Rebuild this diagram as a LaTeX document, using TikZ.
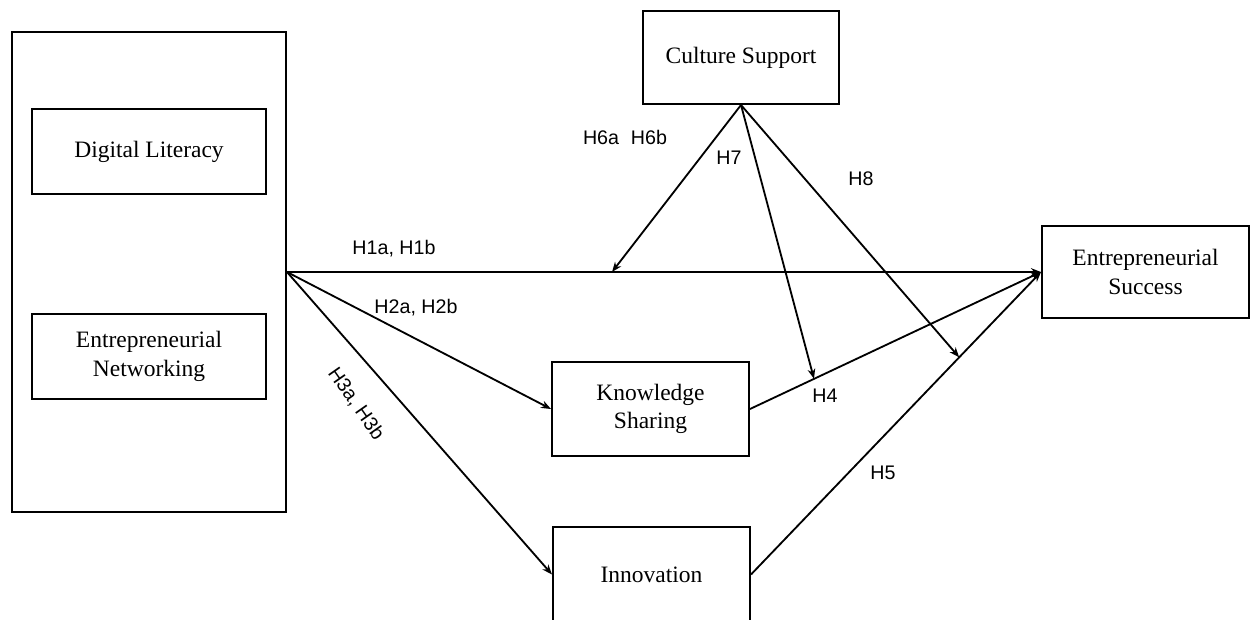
\documentclass[tikz,border=0pt]{standalone}
\usepackage{fontspec}
\setmainfont{Liberation Serif}
\newfontfamily\labfont{Liberation Sans}
\usetikzlibrary{arrows.meta,calc}
\begin{document}
\begin{tikzpicture}[x=0.6pt,y=-0.6pt,
  box/.style={draw,line width=1.2pt,inner sep=0pt,align=center,
    font=\fontsize{14.1}{17}\selectfont},
  conn/.style={line width=1.1pt},
  arr/.style={conn,-{Stealth[length=6pt,width=4.6pt]}},
  lab/.style={font=\labfont\fontsize{11.8}{14}\selectfont,inner sep=0pt}]
\useasboundingbox (0,0) rectangle (1250,619);
\node[box,minimum width=164.4pt,minimum height=288pt] (big) at (149,272) {};
\node[box,minimum width=140.4pt,minimum height=51pt] (dl) at (149,151.5) {Digital Literacy};
\node[box,minimum width=140.4pt,minimum height=51pt] (en) at (149,356.5) {Entrepreneurial\\Networking};
\node[box,minimum width=117.6pt,minimum height=55.8pt] (cs) at (741,57.5) {Culture Support};
\node[box,minimum width=124.2pt,minimum height=55.2pt] (es) at (1145.5,272) {Entrepreneurial\\Success};
\node[box,minimum width=118.2pt,minimum height=56.4pt] (ks) at (650.5,409) {Knowledge\\Sharing};
\node[box,minimum width=118.2pt,minimum height=57pt] (inn) at (651.5,574.5) {Innovation};
% connectors
\draw[arr] (big.east) -- (es.west);
\draw[arr] (big.east) -- (ks.west);
\draw[arr] (big.east) -- (inn.west);
\draw[arr] (ks.east) -- (es.west);
\draw[arr] (inn.east) -- (es.west);
\coordinate (h6) at (612,272);
\coordinate (h7) at ($(ks.east)!0.22!(es.west)$);
\coordinate (h8) at ($(inn.east)!0.718!(es.west)$);
\draw[arr] (cs.south) -- (h6);
\draw[arr] (cs.south) -- (h7);
\draw[arr] (cs.south) -- (h8);
% labels
\node[lab] (l1) at (394,249) {H1a, H1b};
\node[lab] (l2) at (416,308) {H2a, H2b};
\node[lab,rotate=-55] (l3) at (356,404) {H3a, H3b};
\node[lab] (l4) at (825,396) {H4};
\node[lab] (l5) at (883,473) {H5};
\node[lab] (l6) at (625,137) {H6a\hspace{0.6em}H6b};
\node[lab] (l7) at (729,158) {H7};
\node[lab] (l8) at (861,179) {H8};
\end{tikzpicture}
\end{document}
